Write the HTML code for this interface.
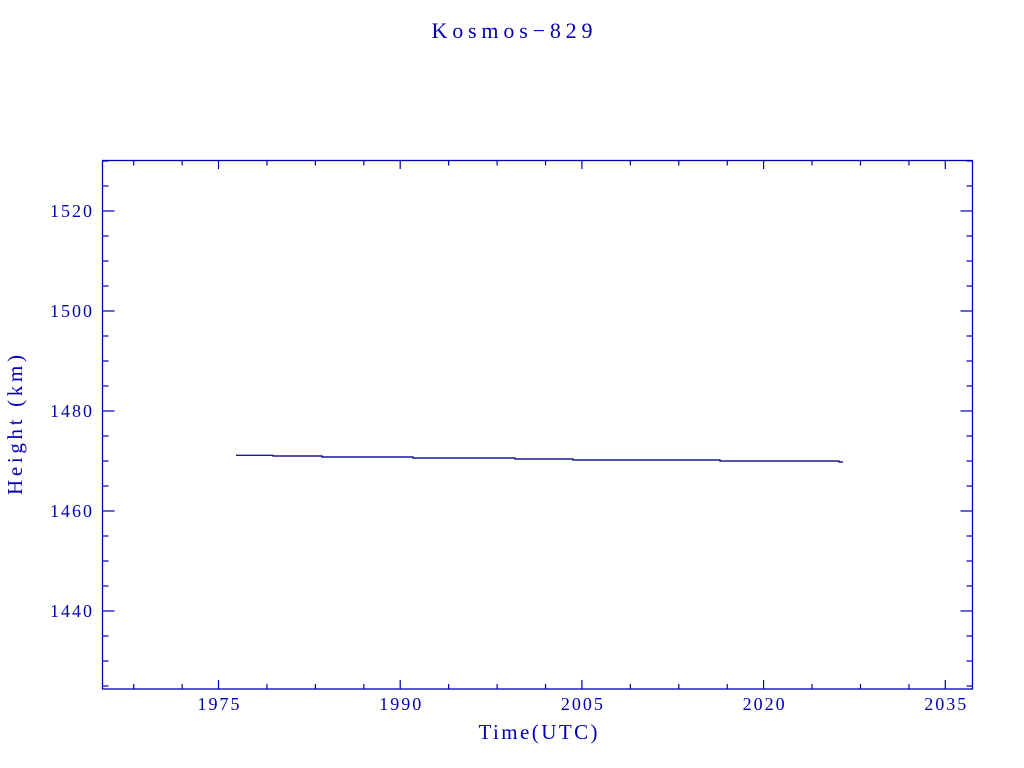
<!DOCTYPE html>
<html><head><meta charset="utf-8"><style>html,body{margin:0;padding:0;background:#fff;}svg{display:block}</style></head>
<body>
<svg id="s" width="1024" height="768" xmlns="http://www.w3.org/2000/svg" font-family="Liberation Serif, serif" fill="#0000b0">
<text x="512" y="38" font-size="22" text-anchor="middle" textLength="161" lengthAdjust="spacing">Kosmos−829</text>
<rect x="102.5" y="160.5" width="870" height="528.5" fill="none" stroke="#0000b0" stroke-width="1.3"/>
<g id="t" stroke="#0000b0" stroke-width="1.2"></g>
<g id="l" font-size="18" text-anchor="end"></g>
<text x="538" y="739" font-size="21" text-anchor="middle" textLength="119" lengthAdjust="spacing">Time(UTC)</text>
<text transform="translate(22,425) rotate(-90)" font-size="21" text-anchor="middle" textLength="140" lengthAdjust="spacing">Height (km)</text>
<polyline fill="none" stroke="#1a1a8c" stroke-width="1.4" points="236,455.3 273,455.3 273,456 322,456 322,457 413,457 413,458 515,458 515,459 573,459 573,460 720,460 720,461 839,461 839,462 843,462"/>
</svg>
<script>
var t=document.getElementById('t'),l=document.getElementById('l'),ns='http://www.w3.org/2000/svg';
function ln(a,b,c,d){var e=document.createElementNS(ns,'line');e.setAttribute('x1',a);e.setAttribute('y1',b);e.setAttribute('x2',c);e.setAttribute('y2',d);t.appendChild(e);}
function tx(x,y,s,anc){var e=document.createElementNS(ns,'text');e.setAttribute('x',x);e.setAttribute('y',y);if(anc)e.setAttribute('text-anchor',anc);e.setAttribute('textLength','42');e.setAttribute('lengthAdjust','spacing');e.textContent=s;l.appendChild(e);}
for(var v=1425;v<=1530;v+=5){var y=211+(1520-v)*5;if(y<161||y>688)continue;var maj=(v%20==0);var L=maj?12:6;ln(102.5,y,102.5+L,y);ln(972.5,y,972.5-L,y);if(maj)tx(92,y+6,v);}
function X(yr){return 218.5+(yr-1975)*12.113;}
var minors=[];for(var b=1960;b<2040;b+=15){for(var k=4;k<15;k+=4)minors.push(b+k);}
minors.forEach(function(m){var x=X(m);if(x>103&&x<972){ln(x,689,x,684);ln(x,160.5,x,165.5);}});
[1975,1990,2005,2020,2035].forEach(function(m){var x=X(m);ln(x,689,x,680);ln(x,160.5,x,169);tx(x,710,m,'middle');});
</script>
</body></html>
